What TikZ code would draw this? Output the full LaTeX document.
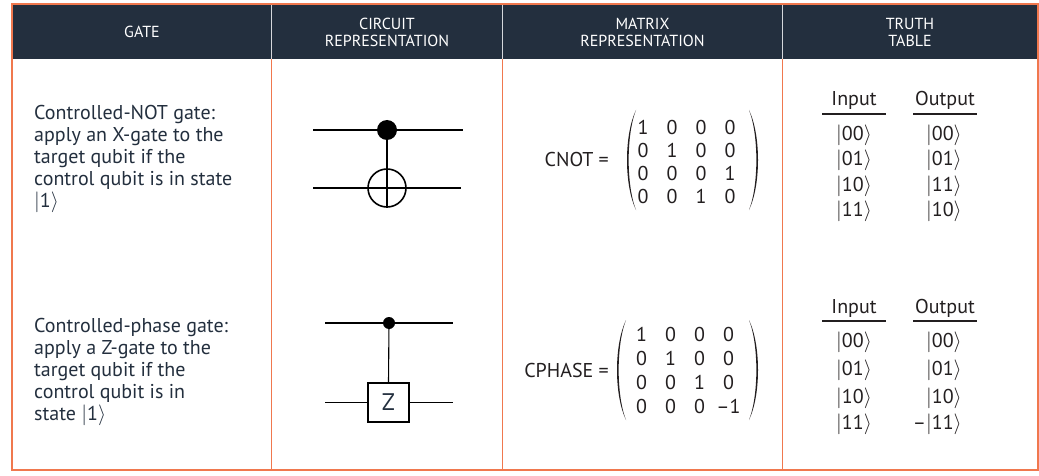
\documentclass[tikz,border=0pt]{standalone}
\usepackage{fontspec}
\setmainfont{PT Sans}
\usetikzlibrary{matrix,calc}
\definecolor{hdr}{HTML}{232F3E}
\definecolor{orng}{HTML}{F0784E}
\definecolor{ink}{HTML}{232F3E}
\definecolor{mink}{HTML}{231F20}
\definecolor{hsep}{HTML}{D5D8DC}
\newcommand\ket[1]{$|$#1$\rangle$}
\newcommand\mkparen[4]{%
  \fill[mink] (#1,#3) .. controls ({#1+#2*12},{#3+0.25*(#4-#3)}) and ({#1+#2*12},{#3+0.75*(#4-#3)}) .. (#1,#4)
     .. controls ({#1+#2*9.8},{#3+0.75*(#4-#3)}) and ({#1+#2*9.8},{#3+0.25*(#4-#3)}) .. cycle;}
\begin{document}
\begin{tikzpicture}[x=1pt,y=-1pt,
  hdrtext/.style={text=white, font=\fontsize{16}{17}\selectfont, align=center, inner sep=0pt},
  desc/.style={text=ink, font=\fontsize{20}{22}\selectfont, align=left, anchor=west, inner sep=0pt},
  mtext/.style={text=mink, font=\fontsize{20}{22}\selectfont, inner sep=0pt},
  border/.style={draw=orng, line width=1.5pt},
  hdrsep/.style={draw=hsep, line width=1pt},
  wire/.style={draw=black, line width=1.6pt},
  thinwire/.style={draw=black, line width=1.1pt},
  ctrlbig/.style={circle, fill=black, minimum size=20pt, inner sep=0pt},
  ctrlsmall/.style={circle, fill=black, minimum size=12pt, inner sep=0pt},
  targ/.style={circle, draw=black, line width=1.6pt, minimum size=38pt, inner sep=0pt},
  zbox/.style={draw=black, line width=1.1pt, minimum width=41pt, minimum height=39pt, inner sep=0pt, text=ink, font=\fontsize{24}{26}\selectfont},
  uline/.style={draw=mink, line width=1.1pt},
  mcell/.style={mtext, minimum width=29pt, minimum height=23pt, anchor=center}
]
\useasboundingbox (0,0) rectangle (1039,476);
\fill[white] (0,0) rectangle (1039,476);
% header
\fill[hdr] (12,4) rectangle (1038,59);
\draw[hdrsep] (271.5,4) -- (271.5,59);
\draw[hdrsep] (502.5,4) -- (502.5,59);
\draw[hdrsep] (782.5,4) -- (782.5,59);
\node[hdrtext] (hgate) at (142,32) {GATE};
\node[hdrtext] (hcirc) at (387,32) {CIRCUIT\\REPRESENTATION};
\node[hdrtext] (hmat) at (642.5,32) {MATRIX\\REPRESENTATION};
\node[hdrtext] (htruth) at (910,32) {TRUTH\\TABLE};
% body borders
\draw[border] (271.5,59) -- (271.5,470);
\draw[border] (502.5,59) -- (502.5,470);
\draw[border] (782.5,59) -- (782.5,470);
\draw[border] (12,4) rectangle (1038,470);

% ---- row 1 ----
\node[desc] (g1) at (34,159) {Controlled-NOT gate:\\apply an X-gate to the\\target qubit if the\\control qubit is in state\\\ket{1}};
\coordinate (w1a) at (313,130); \coordinate (w1b) at (463,130);
\coordinate (w2a) at (313,188); \coordinate (w2b) at (461,188);
\draw[wire] (w1a) -- (w1b);
\draw[wire] (w2a) -- (w2b);
\node[ctrlbig] (c1) at (387,130) {};
\node[targ] (t1) at (387,188) {};
\draw[wire] (c1.center) -- (t1.south);

\node[mtext, anchor=east] (lab1) at (609,160) {CNOT =};
\mkparen{636}{-1}{110}{210}
\mkparen{749}{1}{110}{210}
\matrix (m1) [matrix of nodes, inner sep=0pt, column sep=0pt, row sep=0pt, nodes={mcell}] at (686.5,162) {
1 & 0 & 0 & 0\\
0 & 1 & 0 & 0\\
0 & 0 & 0 & 1\\
0 & 0 & 1 & 0\\};

\node[mtext, anchor=base] (in1) at (854,106) {Input};
\node[mtext, anchor=base] (out1) at (945,106) {Output};
\coordinate (u1a) at (822,114); \coordinate (u1b) at (886,114);
\coordinate (u2a) at (913,114); \coordinate (u2b) at (977,114);
\draw[uline] (u1a) -- (u1b);
\draw[uline] (u2a) -- (u2b);
\node[mtext, anchor=base] (i11) at (854,140.5) {\ket{00}};
\node[mtext, anchor=base] (i12) at (854,165.5) {\ket{01}};
\node[mtext, anchor=base] (i13) at (854,191) {\ket{10}};
\node[mtext, anchor=base] (i14) at (854,216) {\ket{11}};
\node[mtext, anchor=base east] (o11) at (962,140.5) {\ket{00}};
\node[mtext, anchor=base east] (o12) at (962,165.5) {\ket{01}};
\node[mtext, anchor=base east] (o13) at (962,191) {\ket{11}};
\node[mtext, anchor=base east] (o14) at (962,216) {\ket{10}};

% ---- row 2 ----
\node[desc] (g2) at (34,372) {Controlled-phase gate:\\apply a Z-gate to the\\target qubit if the\\control qubit is in\\state \ket{1}};
\coordinate (w3a) at (325,323); \coordinate (w3b) at (453,323);
\coordinate (w4a) at (325,402.5); \coordinate (w4b) at (453,402.5);
\draw[thinwire] (w3a) -- (w3b);
\node[ctrlsmall] (c2) at (389,323) {};
\node[zbox] (zg) at (388.5,402.5) {Z};
\draw[thinwire] (w4a) -- (zg.west);
\draw[thinwire] (zg.east) -- (w4b);
\draw[thinwire] (c2.center) -- (zg.north);

\node[mtext, anchor=east] (lab2) at (609,370) {CPHASE =};
\mkparen{626}{-1}{320}{420}
\mkparen{749}{1}{320}{420}
\matrix (m2) [matrix of nodes, inner sep=0pt, column sep=0pt, row sep=0pt, nodes={mcell, minimum height=24pt}] at (685,370) {
1 & 0 & 0 & 0\\
0 & 1 & 0 & 0\\
0 & 0 & 1 & 0\\
0 & 0 & 0 & --1\\};

\node[mtext, anchor=base] (in2) at (854,313) {Input};
\node[mtext, anchor=base] (out2) at (945,313) {Output};
\coordinate (u3a) at (822,321); \coordinate (u3b) at (886,321);
\coordinate (u4a) at (913,321); \coordinate (u4b) at (977,321);
\draw[uline] (u3a) -- (u3b);
\draw[uline] (u4a) -- (u4b);
\node[mtext, anchor=base] (i21) at (854,347.5) {\ket{00}};
\node[mtext, anchor=base] (i22) at (854,375.5) {\ket{01}};
\node[mtext, anchor=base] (i23) at (854,403.5) {\ket{10}};
\node[mtext, anchor=base] (i24) at (854,429.5) {\ket{11}};
\node[mtext, anchor=base east] (o21) at (962,347.5) {\ket{00}};
\node[mtext, anchor=base east] (o22) at (962,375.5) {\ket{01}};
\node[mtext, anchor=base east] (o23) at (962,403.5) {\ket{10}};
\node[mtext, anchor=base east] (o24) at (962,429.5) {--\ket{11}};
\end{tikzpicture}
\end{document}
